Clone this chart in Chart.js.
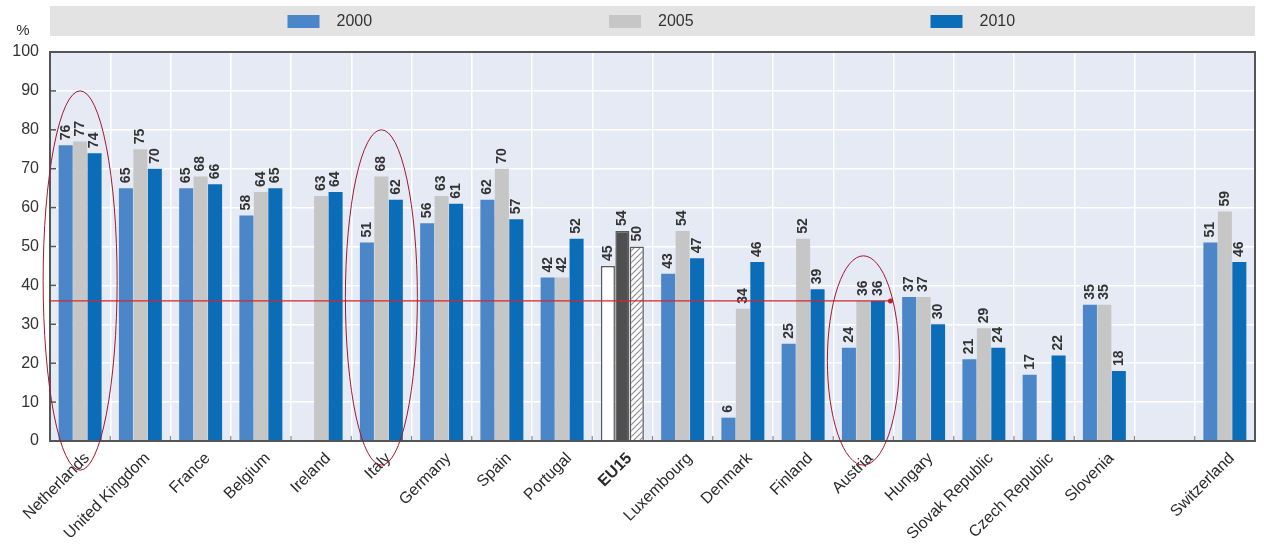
<!DOCTYPE html>
<html>
<head>
<meta charset="utf-8">
<script src="https://cdn.jsdelivr.net/npm/chart.js@4.4.1/dist/chart.umd.min.js"></script>
<style>
  html, body { margin: 0; padding: 0; background: #ffffff; }
  #wrap { width: 1264px; height: 549px; position: relative; }
</style>
</head>
<body>
<div id="wrap"><canvas id="chart" width="1264" height="549"></canvas></div>
<script>
// Employment rate by country, 2000 / 2005 / 2010 (%)
const categories = ['Netherlands', 'United Kingdom', 'France', 'Belgium', 'Ireland', 'Italy',
  'Germany', 'Spain', 'Portugal', 'EU15', 'Luxembourg', 'Denmark', 'Finland', 'Austria',
  'Hungary', 'Slovak Republic', 'Czech Republic', 'Slovenia', '', 'Switzerland'];
const seriesNames = ['2000', '2005', '2010'];
const values2000 = [76, 65, 65, 58, null, 51, 56, 62, 42, 45, 43, 6, 25, 24, 37, 21, 17, 35, null, 51];
const values2005 = [77, 75, 68, 64, 63, 68, 63, 70, 42, 54, 54, 34, 52, 36, 37, 29, null, 35, null, 59];
const values2010 = [74, 70, 66, 65, 64, 62, 61, 57, 52, 50, 47, 46, 39, 36, 30, 24, 22, 18, null, 46];
const yTickValues = [0, 10, 20, 30, 40, 50, 60, 70, 80, 90, 100];
const referenceLevel = 36;
const aggregateLabel = 'EU15';

// Highlighted groups (category, top value, bottom value) and the reference-line end
const highlights = [
  { category: 'Netherlands', top: 90, bottom: -7.5, halfWidth: 37 },
  { category: 'Italy', top: 80, bottom: -6.2, halfWidth: 36 },
  { category: 'Austria', top: 47.6, bottom: -6.2, halfWidth: 36 }
];
const referenceEnd = { category: 'Austria', slotOffset: 0.45 };

const FONT = '"Liberation Sans", Arial, sans-serif';
const TEXT = '#333333';
const seriesColors = ['#4a86c8', '#c6c6c6', '#0b6cb8'];
const aggIndex = categories.indexOf(aggregateLabel);

function hatchPattern() {
  const c = document.createElement('canvas');
  c.width = 6; c.height = 6;
  const g = c.getContext('2d');
  g.fillStyle = '#ffffff';
  g.fillRect(0, 0, 6, 6);
  g.strokeStyle = '#8c8c8c';
  g.lineWidth = 1.1;
  g.beginPath();
  g.moveTo(0, 6); g.lineTo(6, 0);
  g.moveTo(-1, 1); g.lineTo(1, -1);
  g.moveTo(5, 7); g.lineTo(7, 5);
  g.stroke();
  return g.createPattern(c, 'repeat');
}
const aggFills = ['#ffffff', '#4f4f4f', hatchPattern()];

function makeDataset(idx, values) {
  return {
    label: seriesNames[idx],
    data: values,
    backgroundColor: categories.map((_, i) => i === aggIndex ? aggFills[idx] : seriesColors[idx]),
    borderColor: categories.map((_, i) => i === aggIndex ? '#5a5a5a' : seriesColors[idx]),
    borderWidth: categories.map((_, i) => i === aggIndex ? 1.5 : 0),
    legendColor: seriesColors[idx],
    categoryPercentage: 0.72,
    barPercentage: 0.97
  };
}

// Background of the plot area and the grey legend band
const backdrop = {
  id: 'backdrop',
  beforeDraw(chart) {
    const { ctx, chartArea: a } = chart;
    ctx.save();
    ctx.fillStyle = '#e5eaf5';
    ctx.fillRect(a.left, a.top, a.right - a.left, a.bottom - a.top);
    // legend band
    ctx.fillStyle = '#e3e3e3';
    ctx.fillRect(a.left, 6, a.right - a.left, 30);
    const mid = (a.left + a.right) / 2;
    const step = 321.5;
    chart.data.datasets.forEach((ds, i) => {
      const x = mid - 365 + i * step;
      ctx.fillStyle = ds.legendColor;
      ctx.fillRect(x, 15, 32, 13);
      ctx.fillStyle = TEXT;
      ctx.font = '16px ' + FONT;
      ctx.textAlign = 'left';
      ctx.textBaseline = 'middle';
      ctx.fillText(ds.label, x + 49, 22);
    });
    // unit label
    ctx.font = '15px ' + FONT;
    ctx.textAlign = 'center';
    ctx.fillText('%', 23, 31);
    ctx.restore();
  }
};

// Rotated value labels above each bar
const valueLabels = {
  id: 'valueLabels',
  afterDatasetsDraw(chart) {
    const { ctx } = chart;
    ctx.save();
    ctx.fillStyle = TEXT;
    ctx.font = 'bold 14px ' + FONT;
    ctx.textAlign = 'left';
    ctx.textBaseline = 'middle';
    chart.data.datasets.forEach((ds, di) => {
      const meta = chart.getDatasetMeta(di);
      meta.data.forEach((bar, i) => {
        const v = ds.data[i];
        if (v === null || v === undefined) return;
        ctx.save();
        ctx.translate(bar.x, bar.y - 5);
        ctx.rotate(-Math.PI / 2);
        ctx.fillText(String(v), 0, 0);
        ctx.restore();
      });
    });
    ctx.restore();
  }
};

// Frame, inner tick marks, reference line and highlight ovals
const overlay = {
  id: 'overlay',
  afterDraw(chart) {
    const { ctx, chartArea: a, scales: { x, y } } = chart;
    const slot = (a.right - a.left) / categories.length;
    ctx.save();
    // inner ticks on the value axis
    ctx.strokeStyle = '#555555';
    ctx.lineWidth = 1.5;
    yTickValues.forEach(v => {
      const py = y.getPixelForValue(v);
      ctx.beginPath(); ctx.moveTo(a.left, py); ctx.lineTo(a.left + 6, py); ctx.stroke();
    });
    // inner ticks on the category axis (between groups)
    ctx.strokeStyle = '#8a8a8a';
    ctx.lineWidth = 1.2;
    for (let i = 1; i < categories.length; i++) {
      const px = x.getPixelForValue(i) - slot / 2;
      ctx.beginPath(); ctx.moveTo(px, a.bottom); ctx.lineTo(px, a.bottom - 5); ctx.stroke();
    }
    // frame
    ctx.strokeStyle = '#555555';
    ctx.lineWidth = 2;
    ctx.strokeRect(a.left, a.top, a.right - a.left, a.bottom - a.top);

    // reference line at the threshold level
    const ry = y.getPixelForValue(referenceLevel);
    const rx = x.getPixelForValue(categories.indexOf(referenceEnd.category)) + referenceEnd.slotOffset * slot;
    ctx.strokeStyle = '#d0282e';
    ctx.lineWidth = 1.3;
    ctx.beginPath(); ctx.moveTo(a.left, ry); ctx.lineTo(rx, ry); ctx.stroke();
    ctx.fillStyle = '#c0202a';
    ctx.beginPath(); ctx.arc(rx, ry, 2.5, 0, Math.PI * 2); ctx.fill();

    // highlight ovals
    ctx.strokeStyle = '#a3182c';
    ctx.lineWidth = 1;
    highlights.forEach(h => {
      const cx = x.getPixelForValue(categories.indexOf(h.category));
      const top = y.getPixelForValue(h.top);
      const bottom = y.getPixelForValue(h.bottom);
      ctx.beginPath();
      ctx.ellipse(cx, (top + bottom) / 2, h.halfWidth, (bottom - top) / 2, 0, 0, Math.PI * 2);
      ctx.stroke();
    });
    ctx.restore();
  }
};

new Chart(document.getElementById('chart'), {
  type: 'bar',
  data: {
    labels: categories,
    datasets: [makeDataset(0, values2000), makeDataset(1, values2005), makeDataset(2, values2010)]
  },
  options: {
    responsive: false,
    animation: false,
    layout: { padding: { left: 0, right: 9, top: 52, bottom: 0 } },
    plugins: { legend: { display: false }, tooltip: { enabled: false } },
    scales: {
      x: {
        grid: { color: '#ffffff', lineWidth: 1.5, drawTicks: false, offset: true },
        border: { display: false },
        ticks: {
          autoSkip: false,
          minRotation: 45,
          maxRotation: 45,
          padding: 8,
          labelOffset: 7,
          color: '#2a2a2a',
          font: (ctx) => ({ family: FONT, size: 16, weight: ctx.index === aggIndex ? 'bold' : 'normal' })
        },
        afterFit: (s) => { s.height = 108; }
      },
      y: {
        min: 0,
        max: 100,
        afterBuildTicks: (s) => { s.ticks = yTickValues.map(v => ({ value: v })); },
        grid: { color: '#ffffff', lineWidth: 1.5, drawTicks: false },
        border: { display: false },
        ticks: { padding: 11, color: TEXT, font: { family: FONT, size: 16 } },
        afterFit: (s) => { s.width = 50; }
      }
    }
  },
  plugins: [backdrop, valueLabels, overlay]
});
</script>
</body>
</html>
